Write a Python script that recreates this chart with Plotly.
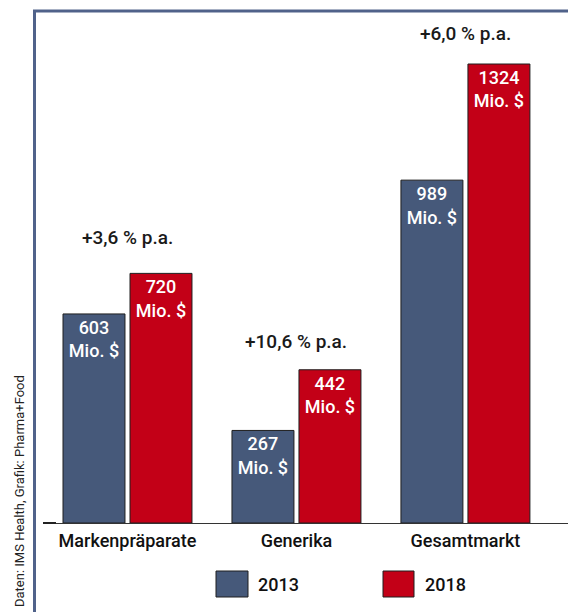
import plotly.graph_objects as go

# Market volume in million US$ by segment
categories = ["Markenpräparate", "Generika", "Gesamtmarkt"]
values_2013 = [603, 267, 989]
values_2018 = [720, 442, 1324]
growth_labels = ["+3,6 % p.a.", "+10,6 % p.a.", "+6,0 % p.a."]
series_names = ["2013", "2018"]
source_note = "Daten: IMS Health, Grafik: Pharma+Food"

COL_2013 = "#46597a"
COL_2018 = "#c30017"
FRAME = "#50628a"
FONT = "Roboto, Liberation Sans, sans-serif"

W, H = 568, 612
ML, MR, MT, MB = 43, 0, 12, 89
PW, PH = W - ML - MR, H - MT - MB


def px_x(px):
    return (px - ML) / PW


def px_y(py):
    return (H - MB - py) / PH


def bar_text(vals):
    return [f"{v}<br>Mio. $" for v in vals]


fig = go.Figure()
for name, vals, col in [(series_names[0], values_2013, COL_2013),
                        (series_names[1], values_2018, COL_2018)]:
    fig.add_trace(go.Bar(
        x=categories, y=vals, name=name,
        marker=dict(color=col, line=dict(color="#1e1e1e", width=1)),
        text=bar_text(vals), textposition="inside", insidetextanchor="end",
        textfont=dict(family=FONT, size=18, color="white", weight=500),
        textangle=0, cliponaxis=False, showlegend=False,
    ))

# growth rates above each group
shifts = [36, 28, 31]
for cat, g, a, b, s in zip(categories, growth_labels, values_2013, values_2018, shifts):
    fig.add_annotation(x=cat, y=max(a, b), text=g, showarrow=False,
                       yanchor="middle", yshift=s,
                       font=dict(family=FONT, size=19, color="#1a1a1a", weight=500))

shapes = [
    # frame: top and left edge
    dict(type="line", xref="paper", yref="paper", x0=px_x(33), x1=px_x(568),
         y0=px_y(11), y1=px_y(11), line=dict(color=FRAME, width=3)),
    dict(type="line", xref="paper", yref="paper", x0=px_x(34.5), x1=px_x(34.5),
         y0=px_y(10), y1=px_y(612), line=dict(color=FRAME, width=3)),
    # short mark at the axis origin
    dict(type="line", xref="paper", yref="paper", x0=px_x(43), x1=px_x(56),
         y0=px_y(523), y1=px_y(523), line=dict(color="#222", width=2)),
]

# legend swatches
legend_items = [(216, 248, 256, series_names[0], COL_2013),
                (383, 414, 423, series_names[1], COL_2018)]
for x0, x1, tx, label, col in legend_items:
    shapes.append(dict(type="rect", xref="paper", yref="paper",
                       x0=px_x(x0), x1=px_x(x1), y0=px_y(597), y1=px_y(571),
                       fillcolor=col, line=dict(color="#1e1e1e", width=1)))
    fig.add_annotation(xref="paper", yref="paper", x=px_x(tx), y=px_y(584),
                       text=label, showarrow=False, xanchor="left", yanchor="middle",
                       font=dict(family=FONT, size=18, color="#111", weight=500))

fig.add_annotation(xref="paper", yref="paper", x=px_x(19), y=px_y(609),
                   text=source_note, textangle=-90, showarrow=False,
                   xanchor="center", yanchor="bottom",
                   font=dict(family=FONT, size=13, color="#222"))

fig.update_layout(
    width=W, height=H,
    margin=dict(l=ML, r=MR, t=MT, b=MB, pad=0),
    paper_bgcolor="white", plot_bgcolor="white",
    barmode="group", bargap=0.207, bargroupgap=0.075,
    shapes=shapes,
    xaxis=dict(range=[-0.5, 2.607], showgrid=False, zeroline=False,
               showline=True, linecolor="#333", linewidth=1, ticks="",
               tickfont=dict(family=FONT, size=18, color="#111", weight=500),
               ticklabelstandoff=1),
    yaxis=dict(range=[0, 1474], visible=False),
)

fig.write_html("out.html")
